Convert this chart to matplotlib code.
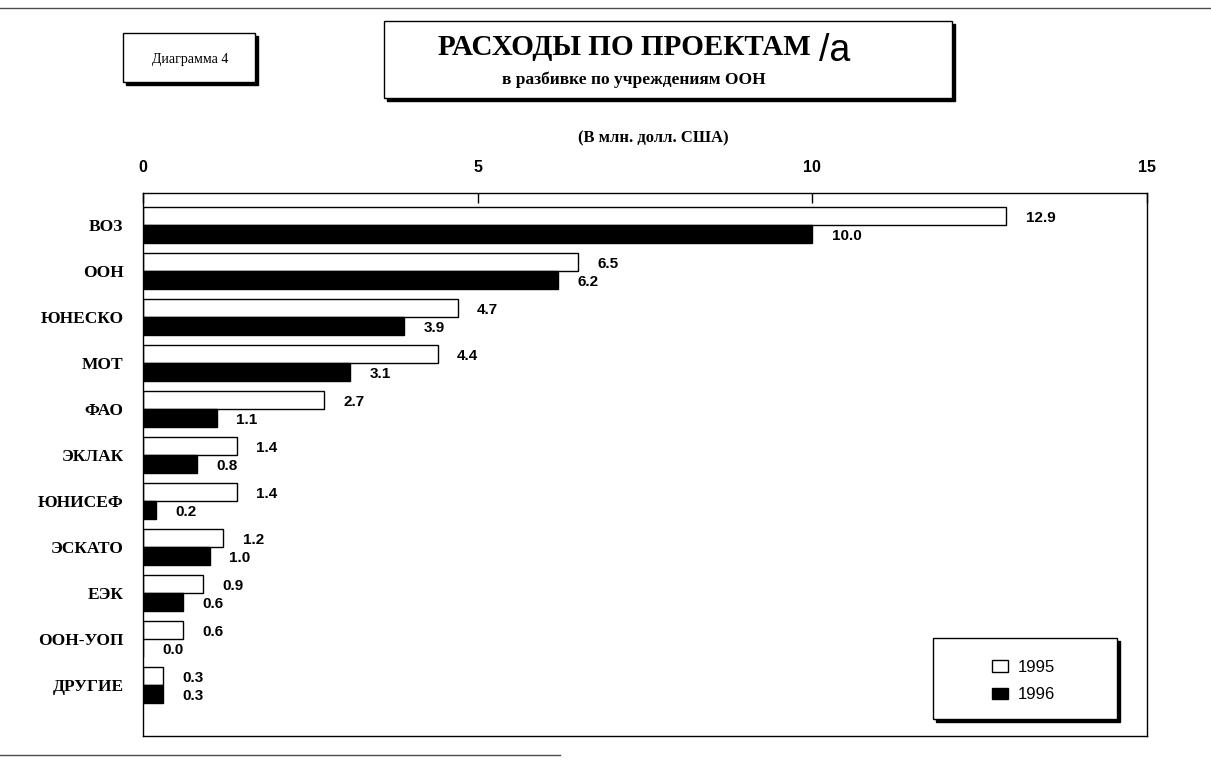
import matplotlib
matplotlib.use("Agg")
import matplotlib.pyplot as plt
from matplotlib.patches import Rectangle, Patch
from matplotlib.lines import Line2D
from matplotlib.text import Annotation

# Data (million US$)
agencies = ["ВОЗ", "ООН", "ЮНЕСКО", "МОТ", "ФАО", "ЭКЛАК",
            "ЮНИСЕФ", "ЭСКАТО", "ЕЭК", "ООН-УОП", "ДРУГИЕ"]
spend_1995 = [12.9, 6.5, 4.7, 4.4, 2.7, 1.4, 1.4, 1.2, 0.9, 0.6, 0.3]
spend_1996 = [10.0, 6.2, 3.9, 3.1, 1.1, 0.8, 0.2, 1.0, 0.6, 0.0, 0.3]
x_ticks = [0, 5, 10, 15]

W, H = 1211, 766
SERIF = "Liberation Serif"
SANS = "Liberation Sans"

fig = plt.figure(figsize=(W / 100, H / 100), dpi=100)


def px_box(x0, y0, x1, y1):
    """pixel box (top-left origin) -> figure fraction rect"""
    return x0 / W, 1 - y1 / H, (x1 - x0) / W, (y1 - y0) / H


def shadow_box(x0, y0, x1, y1, sh=3, z=1, target=None):
    add = target.add_patch if target is not None else fig.add_artist
    l, b, w, h = px_box(x0 + sh, y0 + sh, x1 + sh, y1 + sh)
    add(Rectangle((l, b), w, h, transform=fig.transFigure, clip_on=False,
                  facecolor="black", edgecolor="black", zorder=z))
    l, b, w, h = px_box(x0, y0, x1, y1)
    add(Rectangle((l, b), w, h, transform=fig.transFigure, clip_on=False,
                  facecolor="white", edgecolor="black", lw=1, zorder=z + 0.1))


def hline(y, x0, x1):
    fig.add_artist(Line2D([x0 / W, x1 / W], [1 - y / H, 1 - y / H], color="black",
                          lw=1, alpha=0.7, transform=fig.transFigure))


# scan edges
hline(8, 0, W)
hline(755, 0, 560)

# header boxes
shadow_box(123, 33, 255, 82, sh=3)
fig.text(190 / W, 1 - 60 / H, "Диаграмма 4", family=SERIF, fontsize=10,
         ha="center", va="center", zorder=3)

shadow_box(384, 21, 952, 98, sh=3)
title = fig.text(438 / W, 1 - 55 / H, "РАСХОДЫ ПО ПРОЕКТАМ", family=SERIF,
                 fontsize=21, fontweight="bold", ha="left", va="baseline", zorder=3)
fig.add_artist(Annotation("/а", xy=(1, 0), xycoords=title, xytext=(6, 0),
                          textcoords="offset points", family=SANS, fontsize=27,
                          ha="left", va="baseline", zorder=3, annotation_clip=False))
fig.text(634 / W, 1 - 80 / H, "в разбивке по учреждениям ООН", family=SERIF,
         fontsize=12.5, fontweight="bold", ha="center", va="center", zorder=3)

fig.text(653 / W, 1 - 138 / H, "(В млн. долл. США)", family=SERIF,
         fontsize=12, fontweight="bold", ha="center", va="center")

# main axes
ax = fig.add_axes(px_box(143, 193, 1147, 736))
pos = list(range(len(agencies)))
bh = 0.39
off = 0.195
ax.barh([p - off for p in pos], spend_1995, height=bh, color="white",
        edgecolor="black", lw=1, label="1995")
ax.barh([p + off for p in pos], spend_1996, height=bh, color="black",
        edgecolor="black", lw=1, label="1996")

for p, v in zip(pos, spend_1995):
    ax.annotate(f"{v:.1f}", xy=(v, p - off + 0.03), xytext=(14, 0),
                textcoords="offset points", family=SANS, fontsize=11,
                fontweight="bold", ha="left", va="center")
for p, v in zip(pos, spend_1996):
    ax.annotate(f"{v:.1f}", xy=(v, p + off + 0.03), xytext=(14, 0),
                textcoords="offset points", family=SANS, fontsize=11,
                fontweight="bold", ha="left", va="center")

ax.set_xlim(0, 15)
ax.set_ylim(len(agencies) - 1 + 1.1, -0.7)
ax.xaxis.tick_top()
ax.set_xticks(x_ticks)
ax.set_xticklabels([str(x) for x in x_ticks], family=SANS, fontsize=11.5, fontweight="bold")
ax.tick_params(axis="x", direction="in", length=7, width=1, pad=13, top=True, bottom=False)
ax.set_yticks(pos)
ax.set_yticklabels(agencies, family=SERIF, fontsize=12.5, fontweight="bold")
ax.tick_params(axis="y", length=0, pad=14)
for s in ax.spines.values():
    s.set_linewidth(1)

# legend: framed box with shadow, entries centred in it
shadow_box(933, 638, 1117, 719, sh=3, z=4, target=ax)
handles = [Patch(facecolor="white", edgecolor="black", label="1995"),
           Patch(facecolor="black", edgecolor="black", label="1996")]
leg = ax.legend(handles=handles, loc="center", bbox_to_anchor=(0.877, 0.101),
                prop={"family": SANS, "size": 12}, frameon=False,
                labelspacing=0.75, handlelength=1.0, handleheight=0.7,
                handletextpad=0.6, borderaxespad=0)
leg.set_zorder(6)

fig.savefig("out.png", dpi=100)
